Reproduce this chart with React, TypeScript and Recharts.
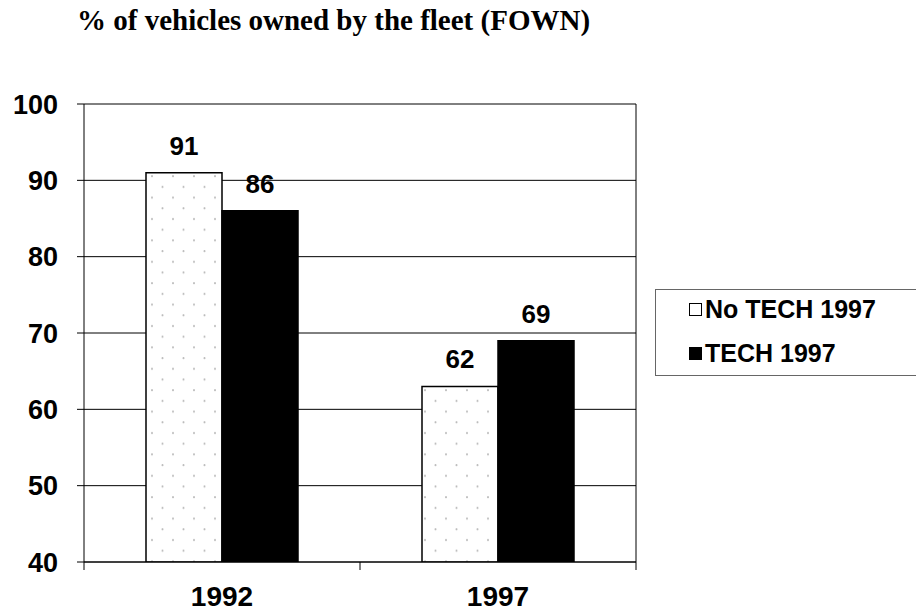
import { BarChart, Bar, XAxis, YAxis, CartesianGrid, LabelList } from 'recharts';

// Share of vehicles owned by the fleet
const years = ['1992', '1997'];
const noTechValues = [91, 63];
// the printed label on the 1997 bar reads 62 although the bar reaches ~63
const noTechLabels = [91, 62];
const techValues = [86, 69];
const techLabels = [86, 69];
const yTicks = [40, 50, 60, 70, 80, 90, 100];

const data = years.map((year, i) => ({
  year,
  noTech: noTechValues[i],
  noTechLabel: noTechLabels[i],
  tech: techValues[i],
  techLabel: techLabels[i],
}));

const W = 916;
const H = 612;
const AXIS_W = 84;
const RIGHT = 280;
const HALF_BAND = (W - AXIS_W - RIGHT) / years.length / 2;
const FONT = '"Liberation Sans", Arial, sans-serif';

const XTick = (props: any) => {
  const { x, y, payload, index } = props;
  const last = index === years.length - 1;
  return (
    <g>
      <line x1={x - HALF_BAND} y1={y} x2={x - HALF_BAND} y2={y + 8} stroke="#000" />
      {last && <line x1={x + HALF_BAND} y1={y} x2={x + HALF_BAND} y2={y + 8} stroke="#000" />}
      <text x={x} y={y + 44} textAnchor="middle" fontFamily={FONT} fontWeight="bold" fontSize={28} fill="#000">
        {payload.value}
      </text>
    </g>
  );
};

const LegendBox = () => (
  <div
    style={{
      position: 'absolute',
      left: 655,
      top: 289,
      width: 270,
      height: 87,
      border: '1px solid #666',
      boxSizing: 'border-box',
      background: '#fff',
      fontFamily: FONT,
      fontWeight: 'bold',
      fontSize: 25,
      color: '#000',
    }}
  >
    {[
      { name: 'No TECH 1997', fill: '#fff' },
      { name: 'TECH 1997', fill: '#000' },
    ].map((item, i) => (
      <div key={item.name} style={{ position: 'absolute', left: 33, top: 4 + i * 44, height: 30, display: 'flex', alignItems: 'center' }}>
        <span style={{ display: 'inline-block', width: 11, height: 11, border: '1px solid #000', background: item.fill, marginRight: 3 }} />
        <span>{item.name}</span>
      </div>
    ))}
  </div>
);

export default function App() {
  return (
    <div style={{ position: 'absolute', left: 0, top: 0, width: W, height: H, background: '#fff' }}>
      <div
        style={{
          position: 'absolute',
          left: 77,
          top: 3,
          lineHeight: '34px',
          fontFamily: '"Liberation Serif", "Times New Roman", serif',
          fontWeight: 'bold',
          fontSize: 29,
          color: '#000',
          whiteSpace: 'nowrap',
        }}
      >
        % of vehicles owned by the fleet (FOWN)
      </div>
      <BarChart
        width={W}
        height={H}
        data={data}
        margin={{ top: 104, right: RIGHT, left: 0, bottom: 0 }}
        barCategoryGap={62}
        barGap={0}
        style={{ position: 'absolute', left: 0, top: 0 }}
      >
        <defs>
          <pattern id="dots" width={21} height={21.4} patternUnits="userSpaceOnUse">
            <rect width={21} height={21.4} fill="#fff" />
            <circle cx={5} cy={5} r={1} fill="#bbb" />
            <circle cx={15.5} cy={15.7} r={1} fill="#bbb" />
          </pattern>
        </defs>
        <CartesianGrid stroke="#000" verticalPoints={[W - RIGHT]} />
        <XAxis
          dataKey="year"
          height={50}
          axisLine={{ stroke: '#000' }}
          tickLine={false}
          tickSize={0}
          tickMargin={0}
          tick={<XTick />}
          interval={0}
        />
        <YAxis
          width={AXIS_W}
          domain={[40, 100]}
          ticks={yTicks}
          allowDataOverflow
          axisLine={{ stroke: '#000' }}
          tickLine={{ stroke: '#000' }}
          tickSize={7}
          tickMargin={19}
          tick={{ fill: '#000', fontFamily: FONT, fontWeight: 'bold', fontSize: 27 }}
        />
        <Bar dataKey="noTech" fill="url(#dots)" stroke="#000" strokeWidth={1.5} isAnimationActive={false}>
          <LabelList dataKey="noTechLabel" position="top" offset={18} fill="#000" fontFamily={FONT} fontWeight="bold" fontSize={26} />
        </Bar>
        <Bar dataKey="tech" fill="#000" stroke="#000" strokeWidth={1.5} isAnimationActive={false}>
          <LabelList dataKey="techLabel" position="top" offset={18} fill="#000" fontFamily={FONT} fontWeight="bold" fontSize={26} />
        </Bar>
      </BarChart>
      <LegendBox />
    </div>
  );
}
